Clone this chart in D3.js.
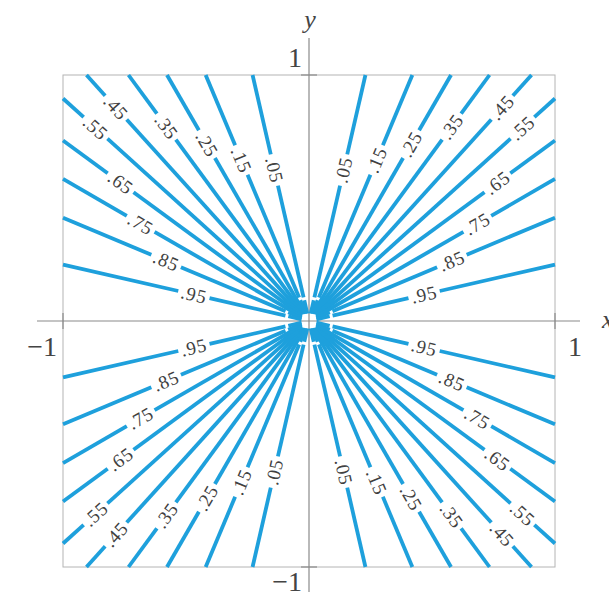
<!DOCTYPE html>
<html>
<head>
<meta charset="utf-8">
<script src="https://cdn.jsdelivr.net/npm/d3@7"></script>
<style>
  html, body { margin: 0; padding: 0; background: #fff; }
  svg { display: block; }
</style>
</head>
<body>
<svg id="chart" width="609" height="598"></svg>
<script>
// contour levels of f(x,y) = x^2 / (x^2 + y^2)
const levels = [0.05, 0.15, 0.25, 0.35, 0.45, 0.55, 0.65, 0.75, 0.85, 0.95];
const levelLabels = [".05", ".15", ".25", ".35", ".45", ".55", ".65", ".75", ".85", ".95"];
const xTicks = [-1, 1];
const yTicks = [-1, 1];

// where along each contour its label sits (distance from origin, data units)
const labelRadius = [0.63, 0.71, 0.83, 0.98, 1.17, 1.17, 0.95, 0.79, 0.63, 0.48];

const svg = d3.select("#chart");

// scales
const x = d3.scaleLinear().domain([-1, 1]).range([63, 555]);
const y = d3.scaleLinear().domain([-1, 1]).range([567, 75]);
const pxPerUnit = (x(1) - x(-1)) / 2;

const lineColor = "#1ea0dc";
const serif = "Liberation Serif, DejaVu Serif, serif";

const axesG = svg.append("g");
const linesG = svg.append("g");
const labelsG = svg.append("g");

// frame
axesG.append("rect")
  .attr("x", x(-1))
  .attr("y", y(1))
  .attr("width", x(1) - x(-1))
  .attr("height", y(-1) - y(1))
  .attr("fill", "none")
  .attr("stroke", "#b4b4b4")
  .attr("stroke-width", 1);

// axes through the origin
axesG.append("line")
  .attr("x1", 37).attr("x2", 580)
  .attr("y1", y(0)).attr("y2", y(0))
  .attr("stroke", "#8a8a8a").attr("stroke-width", 1.2);

axesG.append("line")
  .attr("x1", x(0)).attr("x2", x(0))
  .attr("y1", 38).attr("y2", 592)
  .attr("stroke", "#8a8a8a").attr("stroke-width", 1.2);

// tick marks
axesG.selectAll(".xtick")
  .data(xTicks)
  .enter()
  .append("line")
  .attr("x1", d => x(d)).attr("x2", d => x(d))
  .attr("y1", y(0) - 8).attr("y2", y(0) + 8)
  .attr("stroke", "#8a8a8a").attr("stroke-width", 1.2);

axesG.selectAll(".ytick")
  .data(yTicks)
  .enter()
  .append("line")
  .attr("x1", x(0) - 8).attr("x2", x(0) + 8)
  .attr("y1", d => y(d)).attr("y2", d => y(d))
  .attr("stroke", "#8a8a8a").attr("stroke-width", 1.2);

const fmt = d => (d < 0 ? "\u2212" : "") + Math.abs(d);

// tick labels
axesG.selectAll(".xlab")
  .data(xTicks)
  .enter()
  .append("text")
  .attr("x", d => d < 0 ? x(d) - 6 : x(d) + 13)
  .attr("y", y(0) + 35)
  .attr("text-anchor", d => d < 0 ? "end" : "start")
  .attr("font-family", serif)
  .attr("font-size", "28px")
  .attr("fill", "#444")
  .text(fmt);

axesG.selectAll(".ylab")
  .data(yTicks)
  .enter()
  .append("text")
  .attr("x", x(0) - 7)
  .attr("y", d => d > 0 ? y(d) - 8 : y(d) + 24)
  .attr("text-anchor", "end")
  .attr("font-family", serif)
  .attr("font-size", "28px")
  .attr("fill", "#444")
  .text(fmt);

// axis names
axesG.append("text")
  .attr("x", x(0) + 1)
  .attr("y", 28)
  .attr("text-anchor", "middle")
  .attr("font-family", serif)
  .attr("font-style", "italic")
  .attr("font-size", "26px")
  .attr("fill", "#444")
  .text("y");

axesG.append("text")
  .attr("x", 602)
  .attr("y", y(0) + 7)
  .attr("font-family", serif)
  .attr("font-style", "italic")
  .attr("font-size", "26px")
  .attr("fill", "#444")
  .text("x");

// contour lines: x^2/(x^2+y^2) = c  ->  y = +-x * sqrt((1-c)/c)
const quadrants = [[1, 1], [-1, 1], [1, -1], [-1, -1]];
const hole = 0.03;       // the lines stop short of the singular origin
const gridGap = 0.09;    // small breaks left by sampling near the origin

quadrants.forEach(([sx, sy]) => {
  levels.forEach((c, i) => {
    const m = Math.sqrt((1 - c) / c);
    const len = Math.sqrt(1 + m * m);
    const ux = sx / len;
    const uy = sy * m / len;
    const rEnd = Math.min(1, 1 / m) * len;
    const rStart = hole * Math.min(1, 1 / m) * len;

    // label
    const rl = labelRadius[i];
    let angle = Math.atan2(-uy, ux) * 180 / Math.PI;
    if (angle > 90) angle -= 180;
    if (angle < -90) angle += 180;
    const lx = x(rl * ux), ly = y(rl * uy);
    const label = labelsG.append("text")
      .attr("transform", `translate(${lx}, ${ly}) rotate(${angle})`)
      .attr("text-anchor", "middle")
      .attr("dominant-baseline", "central")
      .attr("font-family", serif)
      .attr("font-size", "19px")
      .attr("letter-spacing", "0.8px")
      .attr("fill", "#404040")
      .text(levelLabels[i]);
    const w = label.node().getComputedTextLength() / pxPerUnit;

    const gaps = [[rl - w / 2 - 0.012, rl + w / 2 + 0.012]];

    // little breaks near the origin
    if (m > 1 && gridGap / m < 0.04) {
      const r = gridGap * len / m;
      gaps.push([r - 0.006, r + 0.006]);
    }
    if (m < 1 && gridGap * m < 0.05) {
      const r = gridGap * len;
      gaps.push([r - 0.006, r + 0.006]);
    }
    gaps.sort((a, b) => a[0] - b[0]);

    const segs = [];
    let cur = rStart;
    gaps.forEach(([a, b]) => {
      if (a > cur) segs.push([cur, Math.min(a, rEnd)]);
      cur = Math.max(cur, b);
    });
    if (cur < rEnd) segs.push([cur, rEnd]);

    linesG.selectAll(null)
      .data(segs)
      .enter()
      .append("line")
      .attr("x1", d => x(d[0] * ux))
      .attr("y1", d => y(d[0] * uy))
      .attr("x2", d => x(d[1] * ux))
      .attr("y2", d => y(d[1] * uy))
      .attr("stroke", lineColor)
      .attr("stroke-width", 3.8);
  });
});
</script>
</body>
</html>
